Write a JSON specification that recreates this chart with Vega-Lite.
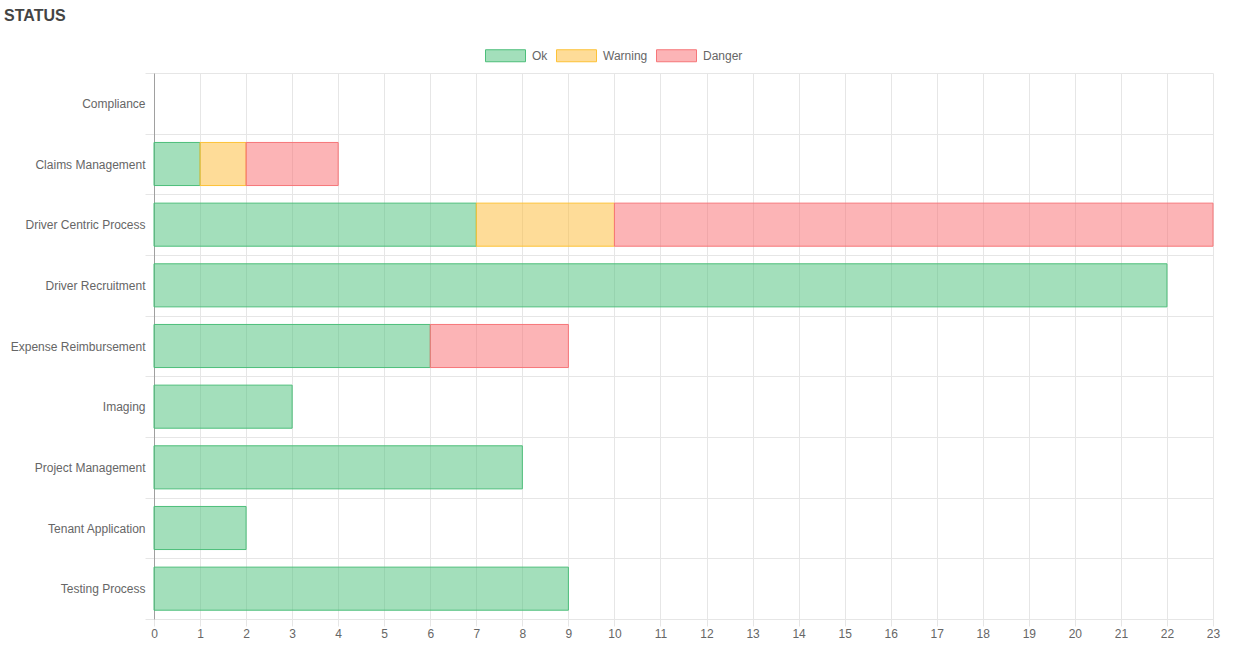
{
  "$schema": "https://vega.github.io/schema/vega-lite/v6.json",
  "width": 1059,
  "height": 546,
  "autosize": {"type": "none"},
  "padding": {"left": 154, "top": 73, "right": 22, "bottom": 40},
  "background": "white",
  "title": {
    "text": "STATUS",
    "anchor": "start",
    "frame": "group",
    "dx": -150,
    "dy": -7,
    "fontSize": 16,
    "font": "Liberation Sans",
    "fontWeight": "bold",
    "color": "#444444"
  },
  "data": {
    "values": [
      {"category": "Claims Management", "status": "Ok", "o": 1, "count": 1},
      {"category": "Claims Management", "status": "Warning", "o": 2, "count": 1},
      {"category": "Claims Management", "status": "Danger", "o": 3, "count": 2},
      {"category": "Driver Centric Process", "status": "Ok", "o": 1, "count": 7},
      {"category": "Driver Centric Process", "status": "Warning", "o": 2, "count": 3},
      {"category": "Driver Centric Process", "status": "Danger", "o": 3, "count": 13},
      {"category": "Driver Recruitment", "status": "Ok", "o": 1, "count": 22},
      {"category": "Expense Reimbursement", "status": "Ok", "o": 1, "count": 6},
      {"category": "Expense Reimbursement", "status": "Danger", "o": 3, "count": 3},
      {"category": "Imaging", "status": "Ok", "o": 1, "count": 3},
      {"category": "Project Management", "status": "Ok", "o": 1, "count": 8},
      {"category": "Tenant Application", "status": "Ok", "o": 1, "count": 2},
      {"category": "Testing Process", "status": "Ok", "o": 1, "count": 9}
    ]
  },
  "mark": {"type": "bar", "strokeWidth": 1, "height": {"band": 0.71}},
  "encoding": {
    "y": {
      "field": "category",
      "type": "nominal",
      "sort": null,
      "scale": {
        "domain": ["Compliance", "Claims Management", "Driver Centric Process", "Driver Recruitment", "Expense Reimbursement", "Imaging", "Project Management", "Tenant Application", "Testing Process"],
        "paddingInner": 0,
        "paddingOuter": 0
      },
      "axis": {
        "title": null,
        "tickBand": "extent",
        "grid": true,
        "gridColor": "#e6e6e6",
        "tickColor": "#e6e6e6",
        "tickSize": 9,
        "domainColor": "#a0a0a0",
        "labelPadding": 0,
        "labelFont": "Liberation Sans",
        "labelFontSize": 12,
        "labelColor": "#666666",
        "labelLimit": 0
      }
    },
    "x": {
      "field": "count",
      "type": "quantitative",
      "stack": "zero",
      "scale": {"domain": [0, 23], "nice": false},
      "axis": {
        "title": null,
        "values": [0,1,2,3,4,5,6,7,8,9,10,11,12,13,14,15,16,17,18,19,20,21,22,23],
        "grid": true,
        "gridColor": "#e6e6e6",
        "tickColor": "#e6e6e6",
        "tickSize": 7,
        "domainColor": "#e6e6e6",
        "labelPadding": 2,
        "labelFlush": false,
        "labelFont": "Liberation Sans",
        "labelFontSize": 12,
        "labelColor": "#666666"
      }
    },
    "order": {"field": "o", "type": "quantitative"},
    "fill": {
      "field": "status",
      "type": "nominal",
      "scale": {
        "domain": ["Ok", "Warning", "Danger"],
        "range": ["rgba(72,191,120,0.5)", "rgba(254,186,50,0.5)", "rgba(249,105,110,0.5)"]
      },
      "legend": {
        "title": null,
        "orient": "none",
        "legendX": 331,
        "legendY": -38,
        "direction": "horizontal",
        "symbolType": "M-1,-0.3H1V0.3H-1Z",
        "symbolSize": 1600,
        "symbolStrokeWidth": 1,
        "labelFont": "Liberation Sans",
        "labelFontSize": 12,
        "labelColor": "#666666",
        "labelOffset": 6,
        "columnPadding": 6
      }
    },
    "stroke": {
      "field": "status",
      "type": "nominal",
      "scale": {
        "domain": ["Ok", "Warning", "Danger"],
        "range": ["rgb(77,190,122)", "rgb(253,194,55)", "rgb(246,118,121)"]
      },
      "legend": {
        "title": null,
        "orient": "none",
        "legendX": 331,
        "legendY": -38,
        "direction": "horizontal",
        "symbolType": "M-1,-0.3H1V0.3H-1Z",
        "symbolSize": 1600,
        "symbolStrokeWidth": 1,
        "labelFont": "Liberation Sans",
        "labelFontSize": 12,
        "labelColor": "#666666",
        "labelOffset": 6,
        "columnPadding": 6
      }
    }
  },
  "config": {"view": {"stroke": null}}
}
